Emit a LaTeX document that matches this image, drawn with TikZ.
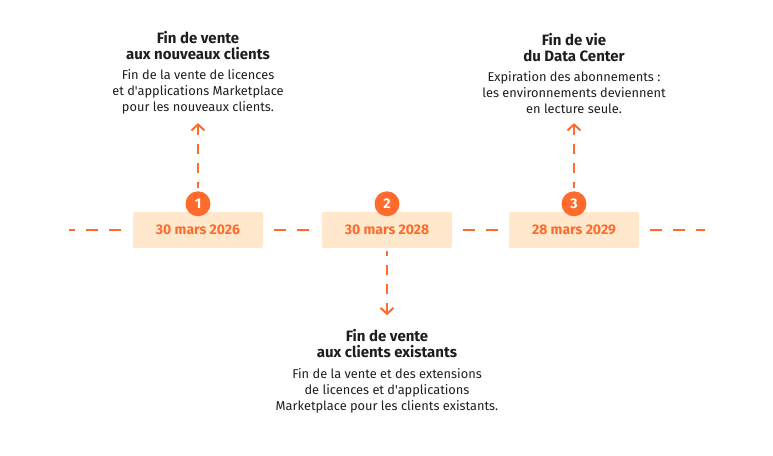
\documentclass[tikz,border=0pt]{standalone}
\usepackage{fontspec}
\setmainfont{Fira Sans}[Ligatures=TeXOff]
\usetikzlibrary{arrows.meta,positioning}

\definecolor{accent}{RGB}{255,107,44}
\definecolor{datefill}{RGB}{255,232,204}
\definecolor{ink}{RGB}{30,30,30}
\newcommand{\ttl}[1]{{\fontsize{15}{16}\selectfont\bfseries #1}}
\newcommand{\infofont}{\fontsize{12.8}{16}\selectfont\setlength{\lineskiplimit}{-10pt}}

\tikzset{
  datebox/.style={fill=datefill, rounded corners=2pt, minimum width=130pt,
    minimum height=36pt, text=accent, font=\bfseries\fontsize{14}{16}\selectfont},
  marker/.style={circle, fill=accent, minimum size=25pt, inner sep=0pt,
    text=white, font=\bfseries\fontsize{14}{16}\selectfont},
  timeline/.style={accent, line width=2.5pt, dash pattern=on 12pt off 11pt},
  pointer/.style={accent, line width=2pt, dash pattern=on 10pt off 9pt,
    {Straight Barb[length=6pt,width=13pt]}-},
  info/.style={align=center, text=ink, inner sep=0pt, font=\infofont},
}

\begin{document}
\begin{tikzpicture}[x=1pt,y=-1pt]
  \useasboundingbox (0,0) rectangle (773,455);

  % dates
  \node[datebox] (d1) at (198,230) {30 mars 2026};
  \node[datebox] (d2) at (387,230) {30 mars 2028};
  \node[datebox] (d3) at (574,230) {28 mars 2029};
  \node[marker] (n1) at ([yshift=8pt]d1.north) {1};
  \node[marker] (n2) at ([yshift=8pt]d2.north) {2};
  \node[marker] (n3) at ([yshift=8pt]d3.north) {3};

  % timeline
  \coordinate (l0) at (69,230);
  \coordinate (l1) at (705,230);
  \draw[timeline, dash phase=6pt, shorten >=11pt] (l0) -- (d1);
  \draw[timeline, shorten <=11pt, shorten >=11pt] (d1) -- (d2);
  \draw[timeline, shorten <=11pt, shorten >=11pt] (d2) -- (d3);
  \draw[timeline, shorten <=11pt] (d3) -- (l1);

  % pointers
  \coordinate (e1) at ([yshift=68pt]n1.north);
  \coordinate (e2) at ([yshift=-67pt]d2.south);
  \coordinate (e3) at ([yshift=68pt]n3.north);
  \draw[pointer, shorten >=3pt] (e1) -- (n1);
  \draw[pointer, shorten >=3pt] (e2) -- (d2);
  \draw[pointer, shorten >=3pt] (e3) -- (n3);

  % milestones
  \node[info, anchor=south] (t1) at ([yshift=9pt]e1)
    {\ttl{Fin de vente}\\\ttl{aux nouveaux clients}\\[4pt]
     Fin de la vente de licences\\et d'applications Marketplace\\
     pour les nouveaux clients.};
  \node[info, anchor=north] (t2) at ([yshift=-14pt]e2)
    {\ttl{Fin de vente}\\\ttl{aux clients existants}\\[5pt]
     Fin de la vente et des extensions\\de licences et d'applications\\
     Marketplace pour les clients existants.};
  \node[info, anchor=south] (t3) at ([yshift=9pt]e3)
    {\ttl{Fin de vie}\\\ttl{du Data Center}\\[4pt]
     Expiration des abonnements~:\\les environnements deviennent\\
     en lecture seule.};
\end{tikzpicture}
\end{document}
